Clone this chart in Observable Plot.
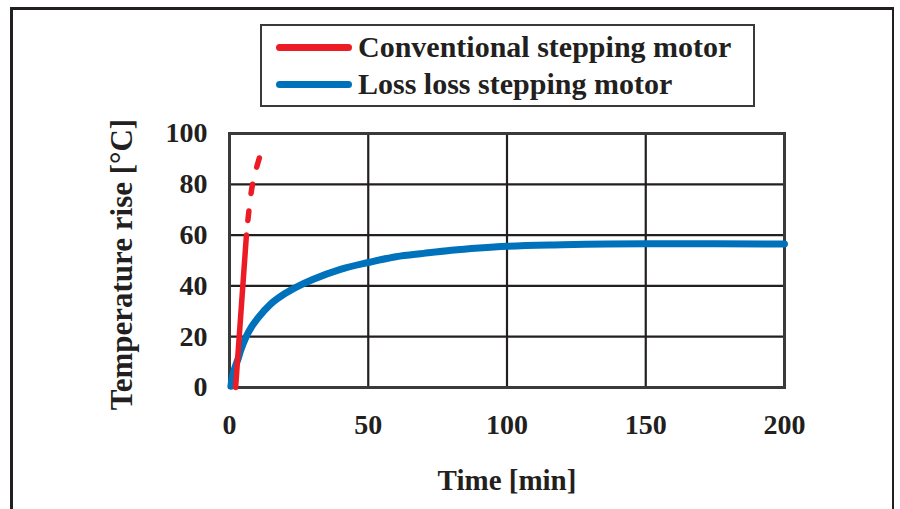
<!DOCTYPE html>
<html>
<head>
<meta charset="utf-8">
<script src="https://cdn.jsdelivr.net/npm/d3@7"></script>
<script src="https://cdn.jsdelivr.net/npm/@observablehq/plot@0.6"></script>
<style>
  html, body { margin: 0; padding: 0; background: #fff; }
  #wrap { position: relative; width: 900px; height: 509px; overflow: hidden; background: #fff; }
  #outer { position: absolute; left: 10px; top: 7px; width: 884px; height: 520px; border: 3px solid #231f20; box-sizing: border-box; border-right-width: 2px; }
  #legend { position: absolute; left: 260px; top: 24px; width: 495px; height: 83px; border: 2px solid #3a3a3a; box-sizing: border-box; background: #fff;
            font-family: "Liberation Serif", "Times New Roman", serif; font-weight: bold; font-size: 30px; color: #231f20; }
  .row { position: absolute; left: 0; height: 36px; display: flex; align-items: center; white-space: nowrap; }
  .sw { display: inline-block; width: 76px; height: 7px; border-radius: 4px; margin-left: 14px; margin-right: 6px; }
  #plot { position: absolute; left: 0; top: 0; }
</style>
</head>
<body>
<div id="wrap">
  <div id="outer"></div>
  <div id="plot"></div>
  <div id="legend"></div>
</div>
<script>
// ---- data ----
const seriesNames = ["Conventional stepping motor", "Loss loss stepping motor"];
const seriesColors = ["#ED1C24", "#0072BC"];

// Conventional motor: measured (solid) part
const convTime = [2.2, 6.1];
const convTemp = [0, 60];
// Conventional motor: extrapolated (dashed) part
const convDashTime = [6.1, 8.3, 11.2];
const convDashTemp = [60, 80, 92];

// Low-loss motor
const lossTime = [0.5, 1, 2, 3, 4, 6, 8, 10, 15, 20, 25, 30, 40, 50, 60, 70, 80, 90, 100, 120, 150, 175, 200];
const lossTemp = [0.5, 4, 8, 11, 14.5, 20, 24, 27, 33, 37, 40, 42.5, 46.5, 49.2, 51.5, 52.8, 54, 54.9, 55.6, 56.2, 56.6, 56.6, 56.5];

const xTicks = [0, 50, 100, 150, 200];
const yTicks = [0, 20, 40, 60, 80, 100];
const xGrid = [50, 100, 150];
const yGrid = [20, 40, 60, 80];
const xLabel = "Time [min]";
const yLabel = "Temperature rise [°C]";

const toPts = (ts, vs) => ts.map((t, i) => ({t, v: vs[i]}));
const conv = toPts(convTime, convTemp);
const convDash = toPts(convDashTime, convDashTemp);
const loss = toPts(lossTime, lossTemp);

const font = `"Liberation Serif", "Times New Roman", serif`;
const ink = "#231f20";

const chart = Plot.plot({
  width: 900,
  height: 509,
  marginLeft: 229,
  marginRight: 116,
  marginTop: 133,
  marginBottom: 122,
  style: `font-family:${font}; font-size:28px; font-weight:bold; color:${ink}; background:transparent; overflow:visible;`,
  x: {domain: [0, 200], ticks: xTicks, tickSize: 0, tickPadding: 27, label: null},
  y: {domain: [0, 100], ticks: yTicks, tickSize: 0, tickPadding: 22, label: null},
  marks: [
    Plot.ruleX(xGrid, {stroke: ink, strokeWidth: 2.2}),
    Plot.ruleY(yGrid, {stroke: ink, strokeWidth: 2.2}),
    Plot.frame({stroke: "#3a3a3a", strokeWidth: 3}),
    Plot.line(loss, {x: "t", y: "v", stroke: seriesColors[1], strokeWidth: 7, curve: "monotone-x", strokeLinecap: "round"}),
    Plot.line(conv, {x: "t", y: "v", stroke: seriesColors[0], strokeWidth: 5.5, strokeLinecap: "round"}),
    Plot.line(convDash, {x: "t", y: "v", stroke: seriesColors[0], strokeWidth: 5.5, curve: "catmull-rom", strokeLinecap: "round", strokeDasharray: "9.5,17.5", strokeDashoffset: 12.25}),
    Plot.text([xLabel], {text: d => d, frameAnchor: "bottom", dy: 102, fontSize: 29, fontWeight: "bold", fill: ink}),
    Plot.text([yLabel], {text: d => d, frameAnchor: "left", textAnchor: "middle", dx: -107, dy: 4, rotate: -90, fontSize: 31, fontWeight: "bold", fill: ink})
  ]
});
document.getElementById("plot").appendChild(chart);

// legend
const legend = document.getElementById("legend");
seriesNames.forEach((name, i) => {
  const row = document.createElement("div");
  row.className = "row";
  row.style.top = (i === 0 ? 3 : 40) + "px";
  const sw = document.createElement("span");
  sw.className = "sw";
  sw.style.background = seriesColors[i];
  const tx = document.createElement("span");
  tx.textContent = name;
  row.appendChild(sw);
  row.appendChild(tx);
  legend.appendChild(row);
});
</script>
</body>
</html>
